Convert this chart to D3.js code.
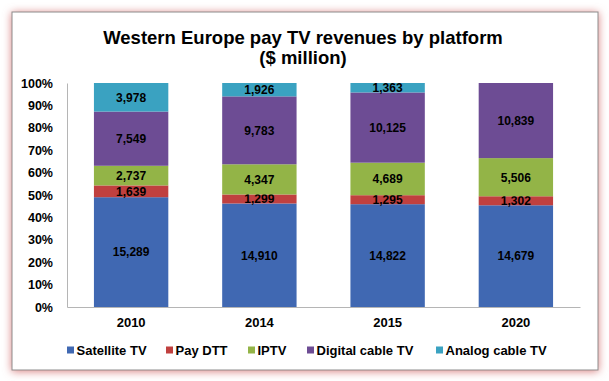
<!DOCTYPE html>
<html>
<head>
<meta charset="utf-8">
<script src="https://cdn.jsdelivr.net/npm/d3@7"></script>
<style>
  body { margin: 0; background: #fff; }
  text { font-family: "Liberation Sans", Arial, sans-serif; font-weight: bold; fill: #000; }
</style>
</head>
<body>
<svg width="609" height="381"></svg>
<script>
// data
var years = ['2010', '2014', '2015', '2020'];
var platforms = ['Satellite TV', 'Pay DTT', 'IPTV', 'Digital cable TV', 'Analog cable TV'];
var colors = ['#4068b2', '#c0403f', '#93b447', '#6d4c94', '#3aa2c1'];
var satellite = [15289, 14910, 14822, 14679];
var payDtt = [1639, 1299, 1295, 1302];
var iptv = [2737, 4347, 4689, 5506];
var digitalCable = [7549, 9783, 10125, 10839];
var analogCable = [3978, 1926, 1363, 0];
var yTicks = [0, 0.1, 0.2, 0.3, 0.4, 0.5, 0.6, 0.7, 0.8, 0.9, 1];

var series = [satellite, payDtt, iptv, digitalCable, analogCable];

// build rows for the stack
var rows = years.map(function (y, i) {
  var r = {year: y};
  platforms.forEach(function (p, k) { r[p] = series[k][i]; });
  return r;
});

var svg = d3.select('svg');

//
// frame with the pink glow
//
var defs = svg.append('defs');
var f = defs.append('filter').attr('id', 'glow')
    .attr('x', '-10%').attr('y', '-10%').attr('width', '120%').attr('height', '120%');
f.append('feDropShadow')
    .attr('dx', 0).attr('dy', 1).attr('stdDeviation', 4)
    .attr('flood-color', '#d98080').attr('flood-opacity', 1);

svg.append('rect')
    .attr('x', 12).attr('y', 12).attr('width', 586).attr('height', 358)
    .attr('fill', '#fff').attr('stroke', '#8c8c8c').attr('stroke-width', 1)
    .attr('filter', 'url(#glow)');

// title
svg.append('text')
    .attr('x', 303).attr('y', 44)
    .attr('text-anchor', 'middle')
    .style('font-size', '18.5px')
    .text('Western Europe pay TV revenues by platform');
svg.append('text')
    .attr('x', 303).attr('y', 64)
    .attr('text-anchor', 'middle')
    .style('font-size', '18.5px')
    .text('($ million)');

var x = d3.scaleBand()
    .domain(years)
    .range([67, 580])
    .paddingInner(0.42)
    .paddingOuter(0.21);

var y = d3.scaleLinear()
    .domain([0, 1])
    .range([307, 83]);

var stack = d3.stack()
    .keys(platforms)
    .offset(d3.stackOffsetExpand);

var layers = stack(rows);

var g = svg.selectAll('.layer')
  .data(layers)
  .enter().append('g')
    .attr('class', 'layer')
    .attr('fill', function (d, i) { return colors[i]; });

g.selectAll('rect')
  .data(function (d) { return d; })
  .enter().append('rect')
    .attr('x', function (d) { return x(d.data.year); })
    .attr('width', x.bandwidth())
    .attr('y', function (d) { return y(d[1]); })
    .attr('height', function (d) { return y(d[0]) - y(d[1]); });

// value labels
svg.selectAll('.layer').each(function (layer) {
  d3.select(this).selectAll('text.val')
    .data(layer.filter(function (d) { return d.data[layer.key] > 0; }))
    .enter().append('text')
      .attr('class', 'val')
      .attr('x', function (d) { return x(d.data.year) + x.bandwidth() / 2; })
      .attr('y', function (d) { return (y(d[0]) + y(d[1])) / 2; })
      .attr('dy', '0.36em')
      .attr('text-anchor', 'middle')
      .style('font-size', '12px')
      .style('fill', '#000')
      .text(function (d) { return d3.format(',')(d.data[layer.key]); });
});

//
// axes
//
var yAxis = svg.append('g')
    .attr('transform', 'translate(67,0)')
    .call(d3.axisLeft(y).tickValues(yTicks).tickFormat(d3.format('.0%')).tickSize(0).tickPadding(14));
yAxis.select('.domain').attr('stroke', '#b5b5b5');
yAxis.selectAll('text').style('font-size', '12.5px').style('font-family', '"Liberation Sans", Arial, sans-serif');

var xAxis = svg.append('g')
    .attr('transform', 'translate(0,307)')
    .call(d3.axisBottom(x).tickSize(0).tickPadding(11));
xAxis.select('.domain').attr('stroke', '#b5b5b5');
xAxis.selectAll('text').style('font-size', '13px').style('font-family', '"Liberation Sans", Arial, sans-serif');

//
// legend
//
var legendX = [67, 166, 248, 307, 436];
var leg = svg.selectAll('.leg')
  .data(platforms)
  .enter().append('g')
    .attr('class', 'leg')
    .attr('transform', function (d, i) { return 'translate(' + legendX[i] + ',350)'; });
leg.append('rect')
    .attr('x', 0).attr('y', -3.5).attr('width', 7).attr('height', 7)
    .attr('fill', function (d, i) { return colors[i]; });
leg.append('text')
    .attr('x', 9.5).attr('dy', '0.36em')
    .style('font-size', '13px')
    .text(function (d) { return d; });
</script>
</body>
</html>
